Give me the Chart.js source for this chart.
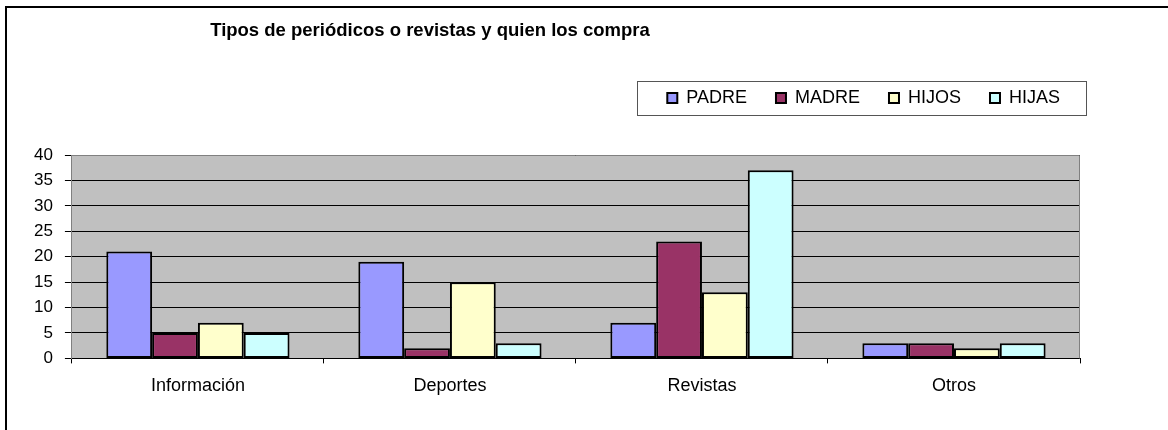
<!DOCTYPE html>
<html>
<head>
<meta charset="utf-8">
<script src="https://cdn.jsdelivr.net/npm/chart.js@4"></script>
<style>
  body { margin: 0; background: #fff; }
  canvas { display: block; }
</style>
</head>
<body>
<canvas id="chart" width="1168" height="430"></canvas>
<script>
const categories = ["Información", "Deportes", "Revistas", "Otros"];
const seriesNames = ["PADRE", "MADRE", "HIJOS", "HIJAS"];
const padre = [21, 19, 7, 3];
const madre = [5, 2, 23, 3];
const hijos = [7, 15, 13, 2];
const hijas = [5, 3, 37, 3];
const yTicks = [0, 5, 10, 15, 20, 25, 30, 35, 40];
const colors = ["#9999FF", "#993366", "#FFFFCC", "#CCFFFF"];
const titleText = "Tipos de periódicos o revistas y quien los compra";

const FONT = "'Liberation Sans', Arial, sans-serif";

// background, outer frame, plot fill
const framePlugin = {
  id: "frame",
  beforeInit(chart) {
    const origFit = chart.legend.fit;
    chart.legend.fit = function () {
      origFit.call(this);
      this.height = 95;
    };
  },
  afterLayout(chart) {
    // push legend a bit to the right like the original
    chart.legend.left += 9;
    chart.legend.right += 9;
  },
  beforeDraw(chart) {
    const ctx = chart.ctx;
    const a = chart.chartArea;
    ctx.save();
    ctx.fillStyle = "#fff";
    ctx.fillRect(0, 0, chart.width, chart.height);
    ctx.strokeStyle = "#000";
    ctx.lineWidth = 2;
    ctx.strokeRect(6, 7, chart.width + 50, chart.height + 50);
    ctx.fillStyle = "#C0C0C0";
    ctx.fillRect(a.left, a.top, a.right - a.left, a.bottom - a.top);
    ctx.restore();
  },
  beforeDatasetsDraw(chart) {
    const ctx = chart.ctx;
    const a = chart.chartArea;
    ctx.save();
    ctx.strokeStyle = "#808080";
    ctx.lineWidth = 1;
    ctx.beginPath();
    ctx.moveTo(a.left, a.top + 0.5);
    ctx.lineTo(a.right - 0.5, a.top + 0.5);
    ctx.lineTo(a.right - 0.5, a.bottom);
    ctx.stroke();
    ctx.restore();
  },
  afterDraw(chart) {
    const ctx = chart.ctx;
    ctx.save();
    ctx.font = "bold 18.5px " + FONT;
    ctx.fillStyle = "#000";
    ctx.textAlign = "center";
    ctx.textBaseline = "middle";
    ctx.fillText(titleText, 430, 31);

    const hb = chart.legend.legendHitBoxes;
    if (hb.length) {
      const first = hb[0], last = hb[hb.length - 1];
      const x0 = Math.round(first.left - 30) + 0.5;
      const x1 = Math.round(last.left + last.width + 26) + 0.5;
      const y0 = Math.round(first.top - 8) + 0.5;
      const y1 = Math.round(first.top + first.height + 8) + 0.5;
      ctx.strokeStyle = "#555";
      ctx.lineWidth = 1;
      ctx.strokeRect(x0, y0, x1 - x0, y1 - y0);
    }
    ctx.restore();
  }
};

const seriesValues = [padre, madre, hijos, hijas];

new Chart(document.getElementById("chart"), {
  type: "bar",
  data: {
    labels: categories,
    datasets: seriesNames.map((name, i) => ({
      label: name,
      data: seriesValues[i],
      backgroundColor: colors[i],
      borderColor: "#000",
      borderWidth: 2,
      borderSkipped: false,
      categoryPercentage: 0.727,
      barPercentage: 1
    }))
  },
  options: {
    responsive: false,
    animation: false,
    layout: { padding: { top: 60, left: 22, right: 88, bottom: 21 } },
    plugins: {
      title: { display: false },
      tooltip: { enabled: false },
      legend: {
        position: "top",
        align: "end",
        labels: {
          boxWidth: 10,
          boxHeight: 10,
          padding: 29,
          color: "#000",
          font: { family: FONT, size: 18 }
        }
      }
    },
    scales: {
      x: {
        grid: {
          offset: true,
          drawOnChartArea: false,
          tickLength: 5,
          color: "#000"
        },
        border: { color: "#000", width: 1 },
        ticks: {
          color: "#000",
          padding: 12,
          font: { family: FONT, size: 18 }
        }
      },
      y: {
        min: 0,
        max: 40,
        afterBuildTicks(axis) {
          axis.ticks = yTicks.map(v => ({ value: v }));
        },
        grid: {
          color: "#000",
          tickLength: 7
        },
        border: { color: "#808080", width: 1 },
        ticks: {
          color: "#000",
          padding: 12,
          font: { family: FONT, size: 17 }
        }
      }
    }
  },
  plugins: [framePlugin]
});
</script>
</body>
</html>
